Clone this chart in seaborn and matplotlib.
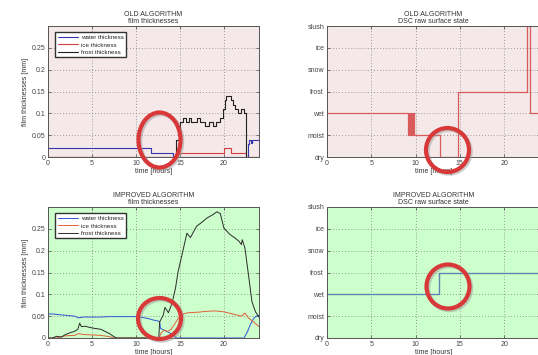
import matplotlib.pyplot as plt
import seaborn as sns
import pandas as pd
from matplotlib.patches import Ellipse

# ---- data ----
states = ['dry', 'moist', 'wet', 'frost', 'snow', 'ice', 'slush']
series_names = ['water thickness', 'ice thickness', 'frost thickness']
hours_ticks = [0, 5, 10, 15, 20]
mm_ticks = [0, 0.05, 0.1, 0.15, 0.2, 0.25]
mm_labels = ['0', '0.05', '0.1', '0.15', '0.2', '0.25']

# OLD algorithm, film thicknesses (step signals)
old_water_t = [0, 11.7, 14.2, 22.7, 22.9, 23.1, 23.15, 23.2, 23.25, 23.3, 24]
old_water_v = [0.02, 0.01, 0.0, 0.03, 0.04, 0.031, 0.038, 0.031, 0.038, 0.04, 0.04]
old_ice_t = [0, 14.6, 20.0, 20.8, 22.55, 24]
old_ice_v = [0.0, 0.01, 0.02, 0.01, 0.0, 0.0]
old_frost_t = [0, 14.6, 15.0, 15.4, 15.7, 16.0, 16.3, 17.0, 17.3, 17.9, 18.3, 18.8,
               19.1, 19.6, 19.9, 20.1, 20.3, 20.8, 21.0, 21.3, 21.6, 22.0, 22.3, 22.5, 24]
old_frost_v = [0.0, 0.04, 0.08, 0.09, 0.08, 0.09, 0.08, 0.09, 0.08, 0.07, 0.08, 0.07,
               0.08, 0.09, 0.11, 0.13, 0.14, 0.13, 0.12, 0.11, 0.10, 0.11, 0.10, 0.0, 0.0]

# OLD algorithm, DSC raw surface state
old_state_t = [0, 9.2, 9.3, 9.4, 9.5, 9.6, 9.7, 9.8, 12.8, 14.8, 22.6, 22.9, 24]
old_state = ['wet', 'moist', 'wet', 'moist', 'wet', 'moist', 'wet', 'moist',
             'dry', 'frost', 'slush', 'wet', 'wet']

# IMPROVED algorithm, film thicknesses
new_water_t = [0, 0.5, 1, 2, 3, 3.5, 4, 5, 6, 7, 8, 9, 10, 10.5, 11, 11.5, 12, 12.5,
               12.7, 12.8, 13.2, 13.6, 14.0, 14.3, 14.6, 22.3, 22.7, 23.0, 23.4, 23.7, 24]
new_water_v = [0.055, 0.055, 0.054, 0.052, 0.05, 0.046, 0.048, 0.048, 0.048, 0.049,
               0.049, 0.049, 0.049, 0.048, 0.046, 0.044, 0.041, 0.039, 0.037, 0.022,
               0.018, 0.014, 0.01, 0.006, 0.0, 0.0, 0.015, 0.03, 0.045, 0.05, 0.052]
new_ice_t = [0, 1, 1.5, 2, 3, 3.5, 4, 5, 6, 7, 7.5, 12.7, 12.8, 13.2, 13.6, 14.0, 14.5,
             15, 15.5, 16, 17, 18, 19, 19.5, 20, 21, 22, 22.4, 22.8, 23.2, 24]
new_ice_v = [0, 0, 0.003, 0.005, 0.006, 0.01, 0.008, 0.007, 0.006, 0.003, 0, 0, 0.01,
             0.018, 0.015, 0.02, 0.035, 0.05, 0.056, 0.058, 0.059, 0.061, 0.062, 0.061,
             0.06, 0.055, 0.05, 0.057, 0.046, 0.04, 0.026]
new_frost_t = [0, 0.5, 1, 1.5, 2, 2.5, 3, 3.4, 3.6, 3.8, 4.2, 4.8, 5.3, 6, 6.5, 7, 7.5,
               7.8, 12.6, 12.7, 13.1, 13.3, 13.5, 13.7, 14.1, 14.5, 14.8, 15.2, 15.8,
               16.2, 16.9, 17.5, 18.1, 18.8, 19.2, 19.6, 20.0, 20.7, 21.2, 21.7, 22.0,
               22.1, 22.4, 22.8, 23.2, 23.6, 24]
new_frost_v = [0, 0, 0.004, 0.002, 0.008, 0.012, 0.015, 0.02, 0.034, 0.026, 0.027,
               0.024, 0.022, 0.02, 0.015, 0.01, 0.003, 0, 0, 0.037, 0.052, 0.07, 0.064,
               0.058, 0.079, 0.114, 0.152, 0.187, 0.24, 0.23, 0.256, 0.265, 0.275,
               0.283, 0.289, 0.285, 0.252, 0.237, 0.23, 0.222, 0.214, 0.225, 0.206,
               0.145, 0.083, 0.06, 0.048]

# IMPROVED algorithm, DSC raw surface state
new_state_t = [0, 12.7, 23.9, 24]
new_state = ['wet', 'frost', 'wet', 'wet']


def long_df(parts):
    frames = []
    for name, t, v in parts:
        frames.append(pd.DataFrame({'time': t, 'value': v, 'series': name}))
    return pd.concat(frames, ignore_index=True)


sns.set_theme(style='white')
plt.rcParams['font.family'] = ['Liberation Sans', 'DejaVu Sans']
plt.rcParams['font.size'] = 5

fig = plt.figure(figsize=(5.38, 3.55), dpi=100)
W, H = 538, 355


def axes_px(left, top, right, bottom):
    return fig.add_axes([left / W, 1 - bottom / H, (right - left) / W, (bottom - top) / H])


ax_tl = axes_px(48, 26, 259, 157)
ax_tr = axes_px(327, 26, 539.5, 157)
ax_bl = axes_px(48, 207, 259, 338)
ax_br = axes_px(327, 207, 539.5, 338)

pink = '#f5e8e8'
green = '#ccffcc'
film_pal_old = {'water thickness': '#3535b0', 'ice thickness': '#d04040', 'frost thickness': '#202020'}
film_pal_new = {'water thickness': '#2f55d4', 'ice thickness': '#e0603a', 'frost thickness': '#2a2a2a'}

df_old = long_df([('water thickness', old_water_t, old_water_v),
                  ('ice thickness', old_ice_t, old_ice_v),
                  ('frost thickness', old_frost_t, old_frost_v)])
df_new = long_df([('water thickness', new_water_t, new_water_v),
                  ('ice thickness', new_ice_t, new_ice_v),
                  ('frost thickness', new_frost_t, new_frost_v)])
df_old_state = pd.DataFrame({'time': old_state_t, 'state': [states.index(s) for s in old_state]})
df_new_state = pd.DataFrame({'time': new_state_t, 'state': [states.index(s) for s in new_state]})

sns.lineplot(data=df_old, x='time', y='value', hue='series', hue_order=series_names,
             palette=film_pal_old, estimator=None, drawstyle='steps-post', linewidth=0.8, ax=ax_tl)
sns.lineplot(data=df_new, x='time', y='value', hue='series', hue_order=series_names,
             palette=film_pal_new, estimator=None, linewidth=0.7, ax=ax_bl)
sns.lineplot(data=df_old_state, x='time', y='state', color='#d85a5a', estimator=None,
             drawstyle='steps-post', linewidth=0.9, ax=ax_tr)
sns.lineplot(data=df_new_state, x='time', y='state', color='#5f86b0', estimator=None,
             drawstyle='steps-post', linewidth=1.0, ax=ax_br)

titles = {ax_tl: 'OLD ALGORITHM\nfilm thicknesses', ax_tr: 'OLD ALGORITHM\nDSC raw surface state',
          ax_bl: 'IMPROVED ALGORITHM\nfilm thicknesses', ax_br: 'IMPROVED ALGORITHM\nDSC raw surface state'}

for ax in [ax_tl, ax_tr, ax_bl, ax_br]:
    ax.set_facecolor(pink if ax in (ax_tl, ax_tr) else green)
    ax.set_xlim(0, 24)
    ax.set_xticks(hours_ticks)
    ax.set_xticklabels([str(t) for t in hours_ticks])
    ax.set_xlabel('time [hours]', fontsize=5, labelpad=1, color='#333333')
    ax.set_title(titles[ax], fontsize=5, pad=2, color='#333333', linespacing=1.1)
    ax.grid(True, linestyle=(0, (1, 2.5)), color='#808080', linewidth=0.6)
    ax.tick_params(direction='in', length=2, width=0.5, labelsize=5, pad=2,
                   top=True, right=True, bottom=True, left=True, colors='#444444')
    for sp in ax.spines.values():
        sp.set_color('#555555')
        sp.set_linewidth(0.7)

for ax in [ax_tl, ax_bl]:
    ax.set_ylim(0, 0.3)
    ax.set_yticks(mm_ticks)
    ax.set_yticklabels(mm_labels)
    ax.set_ylabel('film thicknesses [mm]', fontsize=5, labelpad=2, color='#333333')
    ax.legend(loc='upper left', fontsize=4.5, handlelength=3.2, frameon=True, fancybox=False,
              edgecolor='#333333', facecolor='white', framealpha=1, borderpad=0.4,
              labelspacing=0.3, handletextpad=0.5, bbox_to_anchor=(0.02, 0.975))

for ax in [ax_tr, ax_br]:
    ax.set_ylim(0, 6)
    ax.set_yticks(range(len(states)))
    ax.set_yticklabels(states)
    ax.set_ylabel('')

# red highlight rings (annotation overlay)
rings = [(159.5, 140, 42, 55), (447.5, 150, 43, 44), (159.5, 318.5, 43, 41), (448, 286.5, 43, 44)]
for cx, cy, w, h in rings:
    shadow = Ellipse(((cx + 1.5) / W, 1 - (cy + 1.5) / H), w / W, h / H, transform=fig.transFigure,
                     fill=False, edgecolor='#999999', linewidth=3.2, alpha=0.5)
    ring = Ellipse((cx / W, 1 - cy / H), w / W, h / H, transform=fig.transFigure,
                   fill=False, edgecolor='#d83838', linewidth=3.0)
    fig.add_artist(shadow)
    fig.add_artist(ring)

fig.savefig('out.png', dpi=100)
